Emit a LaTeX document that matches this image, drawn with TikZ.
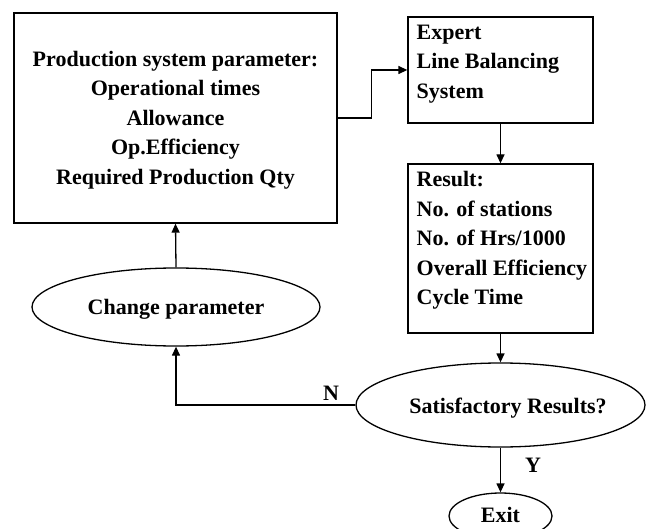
\documentclass[tikz,border=0pt]{standalone}
\usepackage{fontspec}
\setmainfont{Liberation Serif}
\usetikzlibrary{shapes.geometric,arrows.meta}
\begin{document}
\begin{tikzpicture}[x=1pt,y=-1pt,
  line width=1.3pt,
  box/.style={draw, rectangle, inner sep=0pt},
  oval/.style={draw, ellipse, inner sep=0pt},
  txt/.style={font=\fontsize{22}{29.5}\selectfont\bfseries, inner sep=0pt},
  arr/.style={-{Triangle[length=9pt,width=8pt]}}]
\useasboundingbox (0,0) rectangle (647,529);
\clip (0,0) rectangle (647,529);
\node[box, minimum width=323pt, minimum height=210pt] (big) at (175.5,118) {};
\node[txt, align=center] (bigtxt) at (175.5,120) {Production system parameter:\\Operational times\\Allowance\\Op.Efficiency\\Required Production Qty};
\node[box, minimum width=185pt, minimum height=106pt] (expert) at (500.5,70) {};
\node[txt, align=left, anchor=north west] (exptxt) at (416,24) {Expert\\Line Balancing\\System};
\node[box, minimum width=185pt, minimum height=169pt] (result) at (500.5,248.5) {};
\node[txt, align=left, anchor=north west] (restxt) at (416,171) {Result:\\No. of stations\\No. of Hrs/1000\\Overall Efficiency\\Cycle Time};
\node[oval, minimum width=288pt, minimum height=78pt] (chg) at (176,307) {};
\node[txt] (chgtxt) at (176,309) {Change parameter};
\node[oval, minimum width=289pt, minimum height=84pt] (sat) at (500.5,405) {};
\node[txt] (sattxt) at (508,408) {Satisfactory Results?};
\node[oval, minimum width=103pt, minimum height=46pt] (exit) at (500.5,516) {};
\node[txt] (exittxt) at (500.5,515) {Exit};
\node[txt] (nlab) at (331,393) {N};
\node[txt] (ylab) at (533,465) {Y};
\draw[arr] (big.east) -- ++(34,0) |- (expert.west);
\draw[arr] (expert.south) -- (result.north);
\draw[arr] (result.south) -- (sat.north);
\draw[arr] (sat.south) -- (exit.north);
\draw[arr] (sat.west) -| (chg.south);
\draw[arr] (chg.north) -- (big.south);
\end{tikzpicture}
\end{document}
